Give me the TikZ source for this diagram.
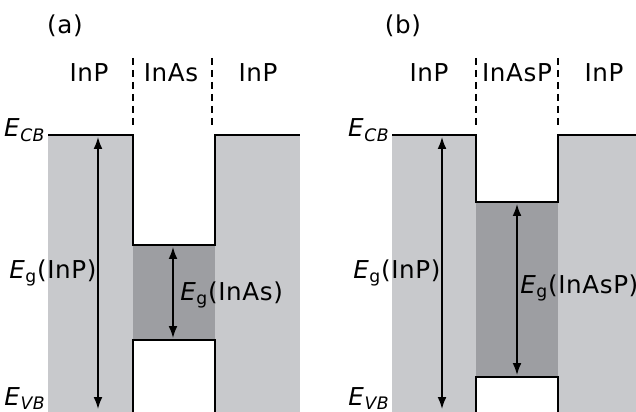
\documentclass[tikz,border=0pt]{standalone}
\usepackage{fontspec}
\setmainfont{DejaVu Sans}[LetterSpace=2.5]
\usepackage{xcolor}
\usetikzlibrary{arrows.meta}

\definecolor{bandgray}{RGB}{200,201,204}
\definecolor{wellgray}{RGB}{157,158,162}

\tikzset{
    edge/.style={line width=1.4pt},
    iface/.style={line width=1.1pt, dash pattern=on 5pt off 3.5pt},
    gaparrow/.style={{Latex[length=8.5pt,width=6.3pt]}-{Latex[length=8.5pt,width=6.3pt]}, line width=1.1pt},
    layer/.style={anchor=base, inner sep=0pt},
    level/.style={anchor=base east, inner sep=0pt},
    gap/.style={anchor=west, inner sep=0pt}
}

\newcommand{\En}[1]{\textit{E}\textsubscript{#1}}

\begin{document}
\begin{tikzpicture}[x=0.025cm, y=-0.025cm, font=\fontsize{17.5}{21}\selectfont]
    \useasboundingbox (0,0) rectangle (636,412);

    % ---------- Panel (a) ----------
    % Bands
    \fill[bandgray] (48,135) rectangle (133,412);
    \fill[bandgray] (215,135) rectangle (300,412);
    \fill[wellgray] (133,245) rectangle (215,340);

    % Band edges
    \draw[edge] (48,135) -- (133,135) -- (133,245) -- (215,245) -- (215,135) -- (300,135);
    \draw[edge] (133,412) -- (133,340) -- (215,340) -- (215,412);

    % Interfaces
    \draw[iface] (133,58) -- (133,126);
    \draw[iface] (212,58) -- (212,126);

    % Labels
    \node[layer] (tagA) at (65,34) {(a)};
    \node[layer] (aInPl) at (89,82) {InP};
    \node[layer] (aInAs) at (171,82) {InAs};
    \node[layer] (aInPr) at (258,82) {InP};
    \node[level] (aECB) at (46,137) {\En{\textit{CB}}};
    \node[level] (aEVB) at (46,405) {\En{\textit{VB}}};

    % Gaps
    \coordinate (aBigTop) at (98,137);
    \coordinate (aBigBot) at (98,409);
    \coordinate (aWellTop) at (173,247);
    \coordinate (aWellBot) at (173,338);
    \draw[gaparrow] (aBigTop) -- (aBigBot);
    \draw[gaparrow] (aWellTop) -- (aWellBot);
    \node[gap] (aEgInP) at (9,273) {\En{g}(InP)};
    \node[gap] (aEgInAs) at (180,295) {\En{g}(InAs)};

    % ---------- Panel (b) ----------
    % Bands
    \fill[bandgray] (392,135) rectangle (476,412);
    \fill[bandgray] (558,135) rectangle (636,412);
    \fill[wellgray] (476,202) rectangle (558,377);

    % Band edges
    \draw[edge] (392,135) -- (476,135) -- (476,202) -- (558,202) -- (558,135) -- (640,135);
    \draw[edge] (476,412) -- (476,377) -- (558,377) -- (558,412);

    % Interfaces
    \draw[iface] (476,58) -- (476,126);
    \draw[iface] (558,58) -- (558,126);

    % Labels
    \node[layer] (tagB) at (403,34) {(b)};
    \node[layer] (bInPl) at (429,82) {InP};
    \node[layer] (bInAsP) at (517,82) {InAsP};
    \node[layer] (bInPr) at (604,82) {InP};
    \node[level] (bECB) at (390,137) {\En{\textit{CB}}};
    \node[level] (bEVB) at (390,405) {\En{\textit{VB}}};

    % Gaps
    \coordinate (bBigTop) at (442,137);
    \coordinate (bBigBot) at (442,409);
    \coordinate (bWellTop) at (517,204);
    \coordinate (bWellBot) at (517,375);
    \draw[gaparrow] (bBigTop) -- (bBigBot);
    \draw[gaparrow] (bWellTop) -- (bWellBot);
    \node[gap] (bEgInP) at (353,273) {\En{g}(InP)};
    \node[gap] (bEgInAsP) at (520,288) {\En{g}(InAsP)};
\end{tikzpicture}
\end{document}
